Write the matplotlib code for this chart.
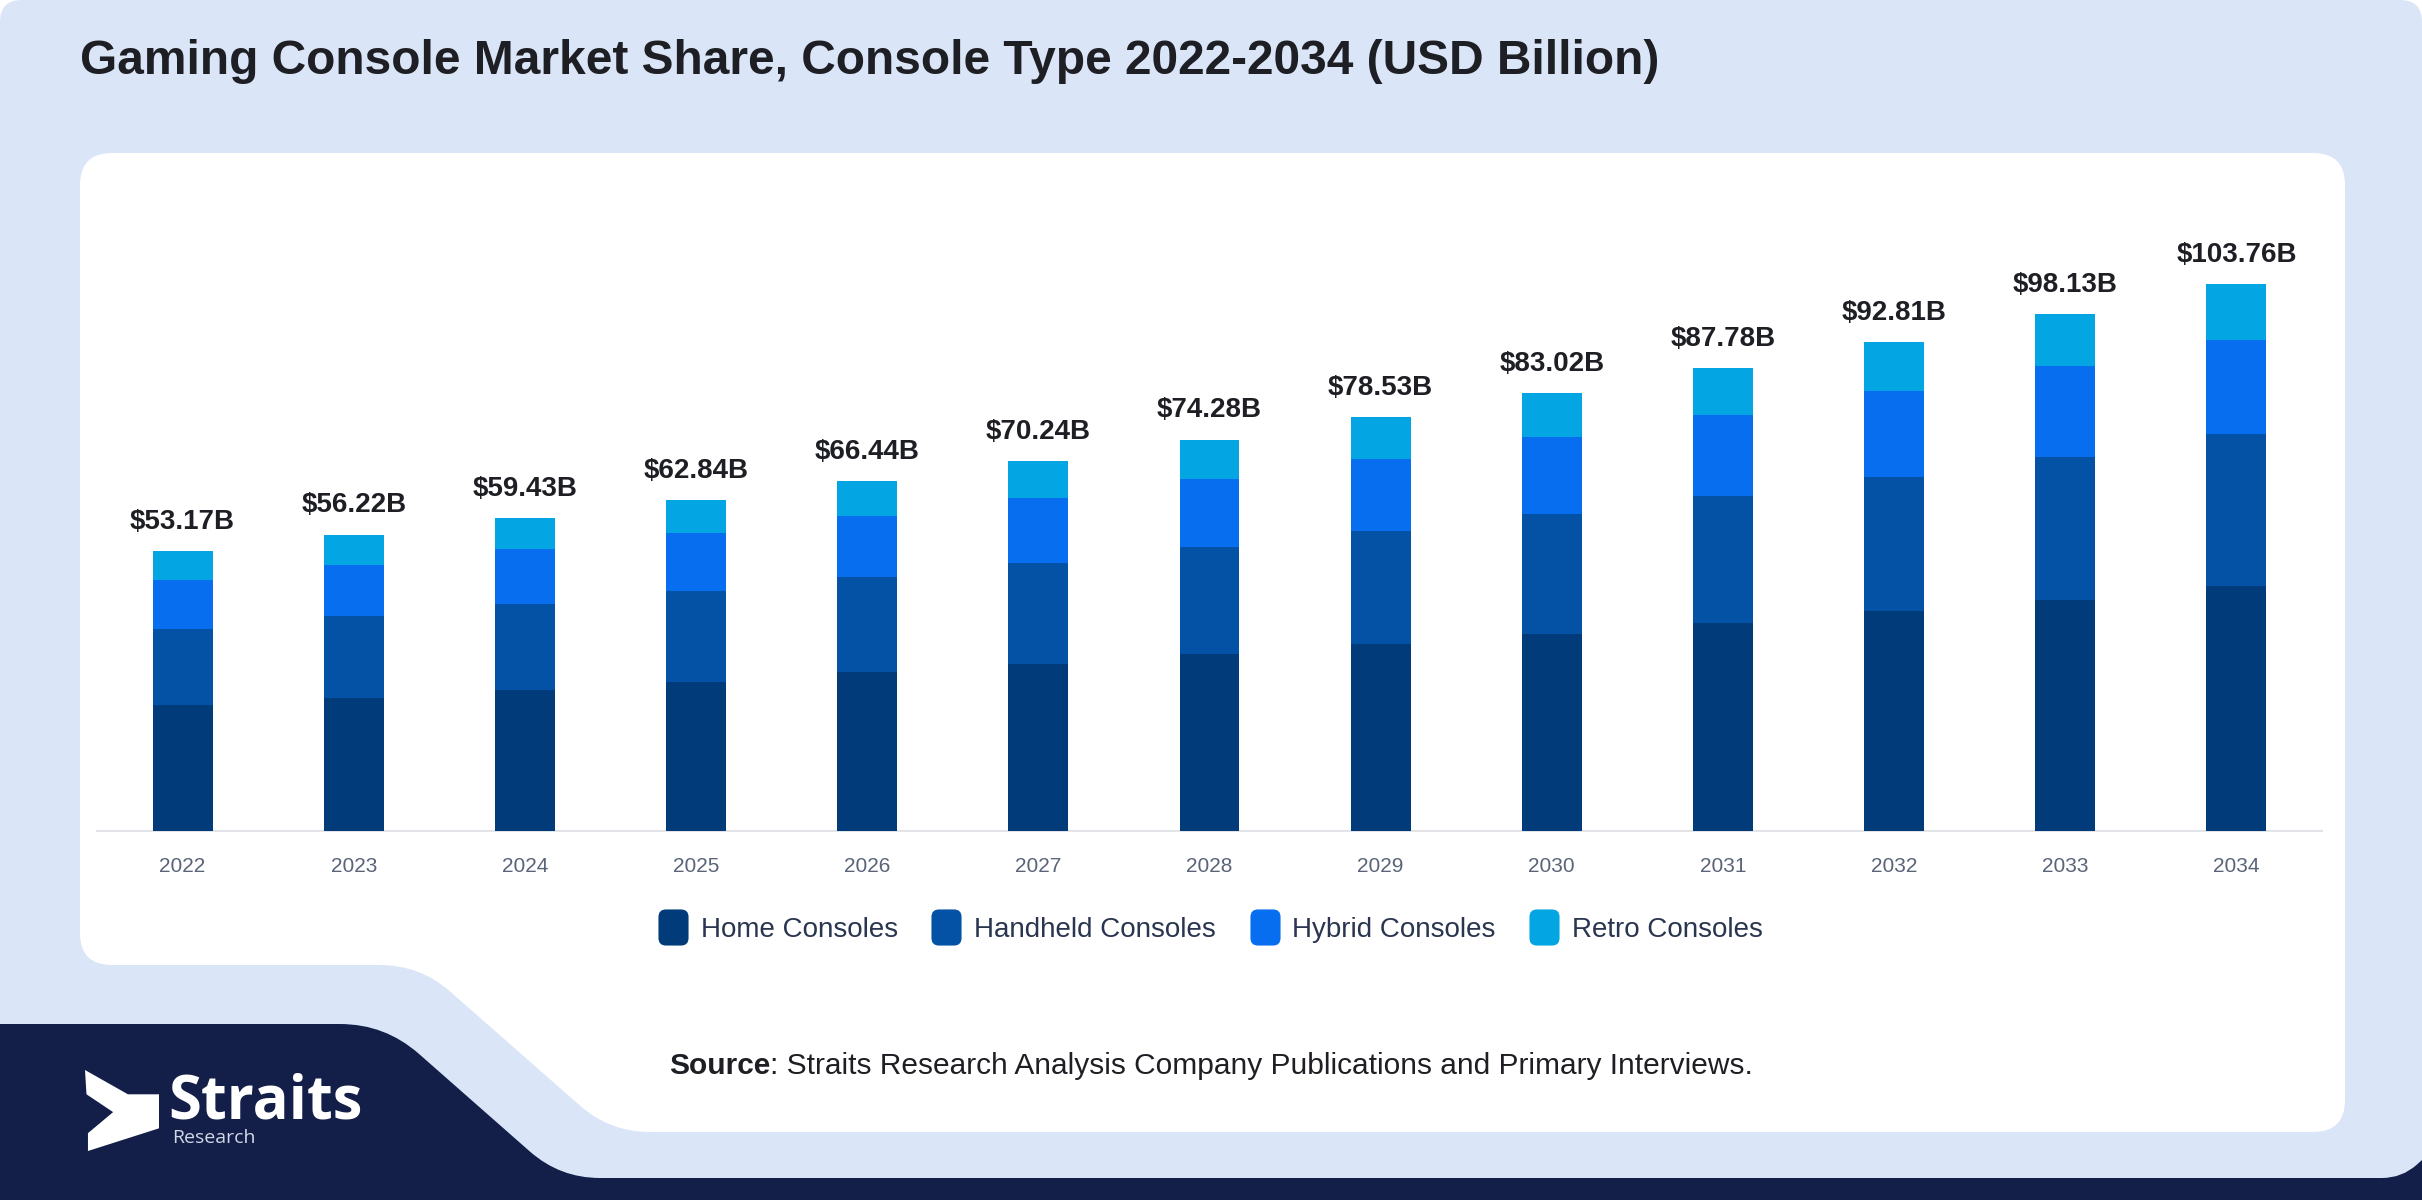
import numpy as np
import matplotlib
matplotlib.use("Agg")
import matplotlib.pyplot as plt
from matplotlib.path import Path
from matplotlib.patches import PathPatch
from matplotlib.lines import Line2D

plt.rcParams['font.family'] = ['Liberation Sans', 'DejaVu Sans']

years = ['2022', '2023', '2024', '2025', '2026', '2027', '2028',
         '2029', '2030', '2031', '2032', '2033', '2034']
home = [23.9, 25.3, 26.7, 28.3, 30.1, 31.6, 33.5, 35.4, 37.3, 39.45, 41.7, 43.9, 46.5]
handheld = [14.5, 15.45, 16.4, 17.2, 18.15, 19.3, 20.4, 21.5, 22.9, 24.2, 25.55, 27.15, 28.75]
hybrid = [9.25, 9.8, 10.4, 11.1, 11.6, 12.3, 12.95, 13.75, 14.6, 15.3, 16.2, 17.2, 17.95]
retro = [5.52, 5.67, 5.93, 6.24, 6.59, 7.04, 7.43, 7.88, 8.22, 8.83, 9.36, 9.88, 10.56]
totals = [53.17, 56.22, 59.43, 62.84, 66.44, 70.24, 74.28, 78.53, 83.02, 87.78, 92.81, 98.13, 103.76]
series_names = ['Home Consoles', 'Handheld Consoles', 'Hybrid Consoles', 'Retro Consoles']
colors = ['#023b7a', '#0352a6', '#076ef0', '#03a6e2']

W, H = 2422, 1200
fig = plt.figure(figsize=(W / 100, H / 100), dpi=100)
fig.patch.set_facecolor('white')


def rounded_path(pts, radii):
    verts, codes = [], []
    n = len(pts)
    for i in range(n):
        p0 = np.array(pts[i - 1], float)
        p1 = np.array(pts[i], float)
        p2 = np.array(pts[(i + 1) % n], float)
        r = radii[i]
        d1 = (p0 - p1) / np.linalg.norm(p0 - p1)
        d2 = (p2 - p1) / np.linalg.norm(p2 - p1)
        a = p1 + d1 * r
        b = p1 + d2 * r
        codes.append(Path.MOVETO if i == 0 else Path.LINETO)
        verts.append(a)
        codes += [Path.CURVE3, Path.CURVE3]
        verts += [p1, b]
    verts.append(verts[0])
    codes.append(Path.CLOSEPOLY)
    return Path(verts, codes)


# background decorations in pixel coordinates
bg = fig.add_axes([0, 0, 1, 1])
bg.set_xlim(0, W)
bg.set_ylim(H, 0)
bg.axis('off')

card = rounded_path([(0, 0), (W, 0), (W, H), (0, H)], [22, 22, 0, 0])
bg.add_patch(PathPatch(card, facecolor='#dae6f7', edgecolor='none'))

navy = rounded_path([(0, 1024), (385, 1024), (560, 1178), (W - 20, 1178),
                     (W, 1160), (W, H), (0, H)],
                    [0, 45, 40, 20, 0, 0, 0])
bg.add_patch(PathPatch(navy, facecolor='#131f48', edgecolor='none'))

panel = rounded_path([(80, 153), (2345, 153), (2345, 1132), (610, 1132),
                      (420, 965), (80, 965)],
                     [32, 32, 32, 40, 40, 32])
bg.add_patch(PathPatch(panel, facecolor='white', edgecolor='none'))

# logo
icon = np.array([(0, 0), (0.58, 0.3), (1, 0.3), (1, 0.72), (0.04, 1.0),
                 (0.04, 0.78), (0.38, 0.52), (0.02, 0.3)])
icon_x = 85 + icon[:, 0] * 74
icon_y = 1070 + icon[:, 1] * 81
bg.fill(icon_x, icon_y, color='white', lw=0)
bg.text(168, 1103, 'Straits', color='white', fontsize=43, fontweight='bold',
        family=['Open Sans', 'DejaVu Sans'], va='center', ha='left')
bg.text(172, 1138, 'Research', color='#d0d7e6', fontsize=14,
        family=['Open Sans', 'DejaVu Sans'], va='center', ha='left')

# title
fig.text(80 / W, 1 - 62 / H, 'Gaming Console Market Share, Console Type 2022-2034 (USD Billion)',
         fontsize=34.5, fontweight='bold', color='#1e1f24', va='center', ha='left')

# chart
px_per_b = 5.27
base_y, top_y = 831, 200
ax = fig.add_axes([97 / W, 1 - base_y / H, 2225 / W, (base_y - top_y) / H])
ax.set_facecolor('none')
x = np.arange(len(years))
bottom = np.zeros(len(years))
for vals, name, c in zip([home, handheld, hybrid, retro], series_names, colors):
    ax.bar(x, vals, width=0.35, bottom=bottom, color=c, label=name, zorder=3)
    bottom += np.array(vals)

for i, t in enumerate(totals):
    ax.annotate(f'${t:.2f}B', (i, bottom[i]), xytext=(0, 16), textcoords='offset points',
                ha='center', va='baseline', fontsize=20, fontweight='bold', color='#1e1f24')

ax.set_xlim(-0.5, len(years) - 0.5)
ax.set_ylim(0, (base_y - top_y) / px_per_b)
ax.set_xticks(x)
ax.set_xticklabels(years)
ax.set_yticks([])
for s in ['top', 'right', 'left']:
    ax.spines[s].set_visible(False)
ax.spines['bottom'].set_color('#e2e4e8')
ax.spines['bottom'].set_linewidth(1.5)
ax.tick_params(axis='x', length=0, pad=19, labelsize=15, labelcolor='#5a6478')

# legend with rounded square markers
sq = rounded_path([(-0.5, -0.6), (0.5, -0.6), (0.5, 0.6), (-0.5, 0.6)], [0.25] * 4)
handles = [Line2D([], [], marker=sq, markersize=26, linestyle='none',
                  markerfacecolor=c, markeredgecolor='none') for c in colors]
fig.legend(handles, series_names, loc='center', bbox_to_anchor=(0.5, 1 - 930 / H),
           ncol=4, frameon=False, fontsize=20, labelcolor='#2a3550',
           handletextpad=0.5, columnspacing=1.25, handlelength=1.0)

# source line
sy = 1 - 1066 / H
r = fig.canvas.get_renderer()
t1 = fig.text(0, sy, 'Source', fontsize=21.5, fontweight='bold', color='#1e1f24', va='center')
t2 = fig.text(0, sy, ': Straits Research Analysis Company Publications and Primary Interviews.',
              fontsize=21.5, color='#1e1f24', va='center')
w1 = t1.get_window_extent(r).width
w2 = t2.get_window_extent(r).width
x0 = (W - w1 - w2) / 2 - 0
t1.set_x(x0 / W)
t2.set_x((x0 + w1) / W)

fig.savefig('out.png', dpi=100)
